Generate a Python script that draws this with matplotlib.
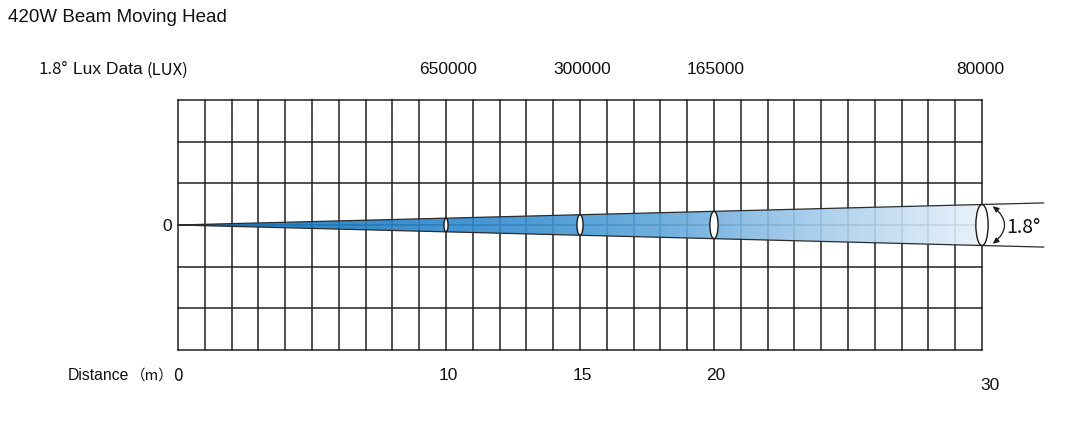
import numpy as np
import matplotlib
matplotlib.use('Agg')
from matplotlib import pyplot as plt
from matplotlib.colors import LinearSegmentedColormap
from matplotlib.patches import Polygon, Ellipse, FancyArrowPatch

W, H = 1077, 423

title = '420W Beam Moving Head'
beam_angle = 1.8
distances = [10, 15, 20, 30]
lux = ['650000', '300000', '165000', '80000']
max_dist = 30
n_rows = 6

LAT = 'Liberation Sans'
CJK = ['Noto Sans CJK SC', 'DejaVu Sans']

fig = plt.figure(figsize=(W / 100, H / 100), dpi=100)
fig.patch.set_facecolor('white')

def px(x, y):
	return x / W, 1 - y / H

def ftext(x, y, s, fam=LAT, size=12.5, ha='left', va='center'):
	fx, fy = px(x, y)
	fig.text(fx, fy, s, family=fam, fontsize=size, ha=ha, va=va, color='#111111')

ax = fig.add_axes([178 / W, 73 / H, 804 / W, 250 / H])
ax.set_xlim(0, max_dist)
ax.set_ylim(-n_rows / 2, n_rows / 2)
ax.axis('off')

# grid
for i in range(max_dist + 1):
	ax.plot([i, i], [-n_rows / 2, n_rows / 2], color='#231f20', lw=1.1, zorder=1, clip_on=False)
for j in range(n_rows + 1):
	y = -n_rows / 2 + j
	ax.plot([0, max_dist], [y, y], color='#231f20', lw=1.1, zorder=1, clip_on=False)

# beam (half width in row units per metre)
k = 0.0164
end = 32.3
cmap = LinearSegmentedColormap.from_list('beam', ['#1474bf', '#1f7fc6', '#358ccf', '#5ea6da', '#a3cbeb', '#e6f1fa'])
grad = np.linspace(0, 1, 300).reshape(1, -1)
im = ax.imshow(grad, cmap=cmap, extent=[0, max_dist, -1, 1], aspect='auto', zorder=2, alpha=0.9)
tri = Polygon([(0, 0), (max_dist, k * max_dist), (max_dist, -k * max_dist)], closed=True,
	facecolor='none', edgecolor='none', transform=ax.transData)
ax.add_patch(tri)
im.set_clip_path(tri)
ax.set_xlim(0, max_dist)
ax.set_ylim(-n_rows / 2, n_rows / 2)

for s in (1, -1):
	ax.plot([0, end], [0, s * k * end], color='#2b2b2b', lw=0.9, zorder=3, clip_on=False)

# cross-section ellipses
xs = 804 / max_dist
ys = 250 / n_rows
for d in distances:
	h = 2 * k * d
	w = 0.3 * h * ys / xs
	ax.add_patch(Ellipse((d, 0), w, h, facecolor='white', edgecolor='#1a1a1a', lw=1.0, zorder=4, clip_on=False))

# angle arrow
top = k * max_dist
arr = FancyArrowPatch((max_dist + 0.4, top - 0.04), (max_dist + 0.4, -top + 0.04),
	connectionstyle='arc3,rad=-0.6', arrowstyle='<|-|>,head_length=3.5,head_width=1.6',
	color='#1a1a1a', lw=0.9, zorder=5, clip_on=False, shrinkA=0, shrinkB=0)
ax.add_patch(arr)

# texts
ftext(8, 18, title, size=13.5)
ftext(39, 70, '1.8°', fam=CJK, size=12)
ftext(73, 70, 'Lux Data', size=12.5)
ftext(146, 70, '(LUX)', fam=CJK, size=12)

lux_x = [448, 582, 716, 980]
for x, s in zip(lux_x, lux):
	ftext(x, 70, s, ha='center')

ftext(167, 226, '0', ha='center')
ftext(1006, 227, '1.8°', fam=CJK, size=14)

ftext(68, 376, 'Distance', size=11.3)
ftext(131, 376, '（m）', fam=CJK, size=10.5)
ftext(178, 376, '0', fam=CJK, size=12.5, ha='center')
dist_pos = [(448, 376), (582, 376), (716, 376), (990, 385)]
for (x, y), d in zip(dist_pos, distances):
	ftext(x, y, str(d), ha='center')

fig.savefig('out.png', dpi=100, facecolor='white')
